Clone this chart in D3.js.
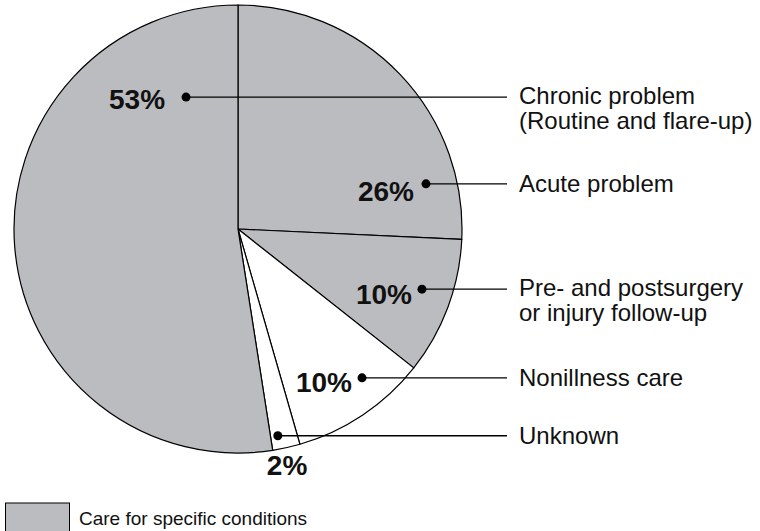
<!DOCTYPE html>
<html>
<head>
<meta charset="utf-8">
<script src="https://cdn.jsdelivr.net/npm/d3@7"></script>
<style>
  body { margin: 0; background: #fff; }
  svg { display: block; font-family: Arial, "Liberation Sans", Helvetica, sans-serif; }
</style>
</head>
<body>
<div id="chart"></div>
<script>
(function (d3) {
  'use strict';

  // slices, clockwise from 12 o'clock
  const categories = [
    ["Acute problem"],
    ["Pre- and postsurgery", "or injury follow-up"],
    ["Nonillness care"],
    ["Unknown"],
    ["Chronic problem", "(Routine and flare-up)"]
  ];
  const values = [26, 10, 10, 2, 53];
  const specific = [true, true, false, false, true]; // care for specific conditions
  const legendLabel = "Care for specific conditions";

  // where each leader dot sits inside its slice (degrees from top, fraction of radius)
  const anchorAngle = [76.5, 108.1, 140.2, 169.1, 338.5];
  const anchorRadius = [0.863, 0.864, 0.865, 0.94, 0.633];
  // percent label offset from its dot
  const valueOffset = [[-12, 17], [-10, 15], [-10, 14], [-11, 39], [-21, 12]];
  const valueBelow = [false, false, false, true, false];

  const width = 760;
  const height = 531;
  const cx = 238;
  const cy = 229;
  const r = 224;
  const lineEnd = 507;
  const labelX = 519;
  const grey = "#bbbcc0";

  const svg = d3.select("#chart").append("svg")
    .attr("width", width)
    .attr("height", height);

  const g = svg.append("g")
    .attr("transform", "translate(" + cx + "," + cy + ")");

  // one unit of value = 1% of the circle
  const total = d3.sum(values);
  const pie = d3.pie()
    .sort(null)
    .value(function(d) { return d; })
    .startAngle(0)
    .endAngle(2 * Math.PI * total / 100);
  const arcs = pie(values);
  arcs.forEach(function(a) { a.endAngle = Math.min(a.endAngle, 2 * Math.PI); });

  const arc = d3.arc().innerRadius(0).outerRadius(r);

  g.selectAll("path.slice")
    .data(arcs)
    .enter()
    .append("path")
    .attr("class", "slice")
    .attr("d", arc)
    .style("fill", function(d, i) { return specific[i] ? grey : "#fff"; })
    .style("stroke", "#000")
    .style("stroke-width", 1.2)
    .style("stroke-linejoin", "round");

  // leader dots, lines and labels
  const anchors = arcs.map(function(d, i) {
    const p = d3.pointRadial(anchorAngle[i] * Math.PI / 180, r * anchorRadius[i]);
    return { x: cx + p[0], y: cy + p[1], i: i };
  });

  svg.selectAll("line.leader")
    .data(anchors)
    .enter()
    .append("line")
    .attr("class", "leader")
    .attr("x1", function(d) { return d.x; })
    .attr("y1", function(d) { return d.y; })
    .attr("x2", lineEnd)
    .attr("y2", function(d) { return d.y; })
    .style("stroke", "#000")
    .style("stroke-width", 1.3);

  svg.selectAll("circle.dot")
    .data(anchors)
    .enter()
    .append("circle")
    .attr("class", "dot")
    .attr("cx", function(d) { return d.x; })
    .attr("cy", function(d) { return d.y; })
    .attr("r", 4.5)
    .style("fill", "#000");

  svg.selectAll("text.pct")
    .data(anchors)
    .enter()
    .append("text")
    .attr("class", "pct")
    .attr("x", function(d) { return d.x + valueOffset[d.i][0]; })
    .attr("y", function(d) { return d.y + valueOffset[d.i][1]; })
    .style("text-anchor", function(d) { return valueBelow[d.i] ? "start" : "end"; })
    .style("font-size", "28px")
    .style("font-weight", "bold")
    .style("fill", "#111")
    .text(function(d) { return values[d.i] + "%"; });

  const labels = svg.selectAll("text.label")
    .data(anchors)
    .enter()
    .append("text")
    .attr("class", "label")
    .attr("x", labelX)
    .attr("y", function(d) {
      return categories[d.i].length > 1 ? d.y + 7 : d.y + 8;
    })
    .style("font-size", "24px")
    .style("fill", "#111");

  labels.selectAll("tspan")
    .data(function(d) { return categories[d.i]; })
    .enter()
    .append("tspan")
    .attr("x", labelX)
    .attr("dy", function(d, j) { return j === 0 ? 0 : 25; })
    .text(function(d) { return d; });

  // legend
  svg.append("rect")
    .attr("x", 5.5)
    .attr("y", 503)
    .attr("width", 64)
    .attr("height", 40)
    .style("fill", grey)
    .style("stroke", "#000")
    .style("stroke-width", 1);

  svg.append("text")
    .attr("x", 79)
    .attr("y", 525)
    .style("font-size", "19px")
    .style("fill", "#111")
    .text(legendLabel);

}(d3));
</script>
</body>
</html>
